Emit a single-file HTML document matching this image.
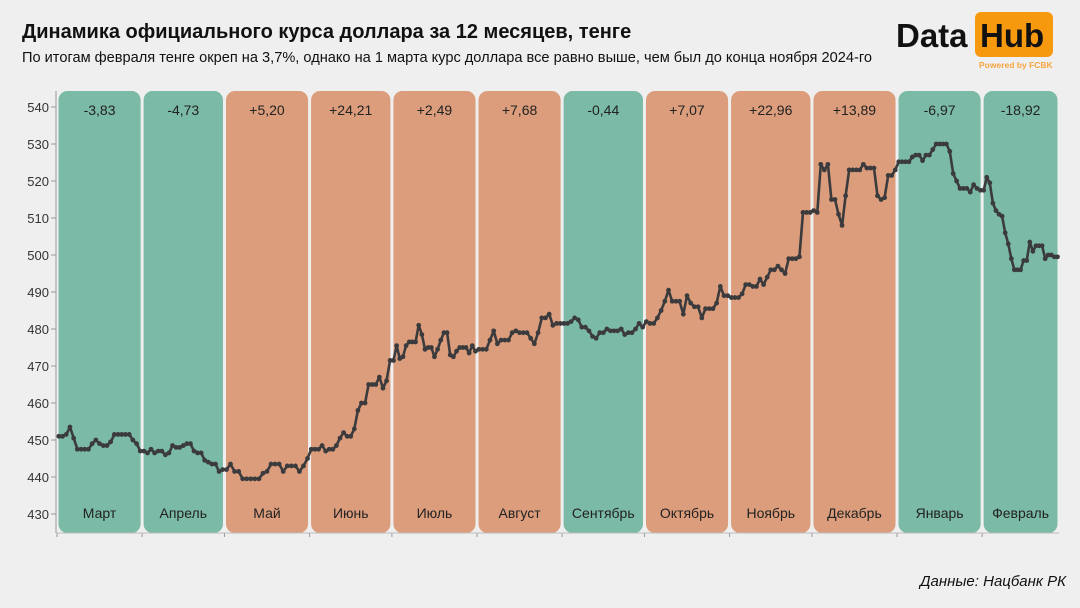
<!DOCTYPE html>
<html><head><meta charset="utf-8"><style>
html,body{margin:0;padding:0;background:#efefef;}
body{width:1080px;height:608px;overflow:hidden;position:relative;font-family:"Liberation Sans",sans-serif;}
#title{position:absolute;left:22px;top:21px;font-size:20px;font-weight:bold;color:#111;}
#sub{position:absolute;left:22px;top:50px;font-size:14.6px;color:#111;}
#src{position:absolute;right:14px;top:573px;font-size:15px;font-style:italic;color:#111;}
#logo{position:absolute;left:895px;top:12px;width:160px;height:60px;}
</style></head><body>
<div id="title">Динамика официального курса доллара за 12 месяцев, тенге</div>
<div id="sub">По итогам февраля тенге окреп на 3,7%, однако на 1 марта курс доллара все равно выше, чем был до конца ноября 2024-го</div>
<div id="logo">
 <span style="position:absolute;left:1px;top:5px;font-size:33px;font-weight:bold;color:#111;">Data</span>
 <div style="position:absolute;left:80px;top:0px;width:78px;height:45px;background:#f7990f;border-radius:6px;"></div>
 <span style="position:absolute;left:85px;top:5px;font-size:33px;font-weight:bold;color:#111;">Hub</span>
 <span style="position:absolute;left:84px;top:48px;font-size:8.5px;font-weight:bold;color:#f5a540;">Powered by FCBK</span>
</div>
<div id="src">Данные: Нацбанк РК</div>
<svg id="chart" width="1080" height="608" style="position:absolute;left:0;top:0"></svg>
<script>
const monthNames=["Март","Апрель","Май","Июнь","Июль","Август","Сентябрь","Октябрь","Ноябрь","Декабрь","Январь","Февраль"];
const monthChanges=["-3,83","-4,73","+5,20","+24,21","+2,49","+7,68","-0,44","+7,07","+22,96","+13,89","-6,97","-18,92"];
const monthDays=[31,30,31,30,31,31,30,31,30,31,31,28];
const yTicks=[430,440,450,460,470,480,490,500,510,520,530,540];
const vMar=[451,451,451.5,453.5,450.5,447.5,447.5,447.5,447.5,449,450,449,448.5,448.5,449.5,451.5,451.5,451.5,451.5,451.5,450,449,447];
const vApr=[447,446.5,447.5,446.5,447,447,446,446.5,448.5,448,448,448.5,449,449,447,446.5,446.5,444.5,444,443.5,443.5,441.5,442];
const vMay=[442,443.5,441.5,441.5,439.5,439.5,439.5,439.5,439.5,441,441.5,443.5,443.5,443.5,441.5,443,443,443,441.5,443,445];
const vJun=[447.5,447.5,447.5,448.5,447,447.5,447.5,448.5,450.5,452,451,451,453,458,460,460,465,465,465,467,464,466,471.5];
const vJul=[471.5,475.5,472,472.5,475.5,476.5,476.5,476.5,481,478.5,474.5,475,475,472.5,474.5,477,479,479,473,472.5,474,475,475,475,473.5,475.5,474];
const vAug=[474.5,474.5,474.5,477,479.5,476,477,477,477,479,479.5,479,479,479,477.5,476,479,483,483,484,481,481.5,481.5];
const vSep=[481.5,481.5,482,483,482.5,480.5,480.5,479.5,478,477.5,479,479,480,479.5,479.5,479.5,480,478.5,479,479,480,481.5,480.5];
const vOct=[482,481.5,481.5,483,485,487.5,490.5,487.5,487.5,487.5,484,489,487,486,486,483,485.5,485.5,485.5,487,491.5,489,489];
const vNov=[488.5,488.5,488.5,489.5,492,492,491.5,491.5,493.5,492,494,496,496,497,496,495,499,499,499,499.5,511.5,511.5,511.5];
const vDec=[512,511.5,524.5,523,524.5,515,515,511,508,516,523,523,523,523,524.5,523.5,523.5,523.5,516,515,515.5,521.5,521.5,523];
const vJan=[525.2,525.2,525.2,525.2,526.5,527,527,525.5,527,527,528.5,530,530,530,530,528,522,520,518,518,518,517,519,518,517.5];
const vFeb=[517.5,521,519.5,514,512,511,510.5,506,503,499,496,496,496,498.5,498.5,503.5,501,502.5,502.5,502.5,499,500,500,499.5,499.5];
const monthValues=[vMar,vApr,vMay,vJun,vJul,vAug,vSep,vOct,vNov,vDec,vJan,vFeb];

const NS="http://www.w3.org/2000/svg";
const svg=document.getElementById('chart');
const X0=57,X1=1059,Y0=533,Ytop=91;
const totalDays=monthDays.reduce((a,b)=>a+b,0);
const x=d=>X0+(X1-X0)*d/totalDays;
const y=v=>514-(v-430)*3.7;
function mk(tag,attrs){const e=document.createElementNS(NS,tag);for(const k in attrs)e.setAttribute(k,attrs[k]);svg.appendChild(e);return e;}

let d0=0;const pts=[];
monthNames.forEach((m,i)=>{
  const xa=x(d0),xb=x(d0+monthDays[i]);
  const green=monthChanges[i].startsWith('-');
  const r=mk('rect',{x:xa+1.5,y:Ytop,width:xb-xa-3,height:Y0-Ytop,rx:9,fill:green?'#7bbaa6':'#dc9d7c'});
  
  
  const t1=mk('text',{x:(xa+xb)/2,y:115,'text-anchor':'middle','font-size':14,fill:'#222','font-family':'Liberation Sans, sans-serif'});
  t1.textContent=monthChanges[i];
  
  
  const t2=mk('text',{x:(xa+xb)/2,y:518,'text-anchor':'middle','font-size':14,fill:'#222','font-family':'Liberation Sans, sans-serif'});
  t2.textContent=m;
  
  
  const vals=monthValues[i];
  vals.forEach((v,j)=>{pts.push([x(d0+(j+0.5)*monthDays[i]/vals.length),y(v)]);});
  const tk=mk('line',{x1:xa,x2:xa,y1:Y0,y2:Y0+4,stroke:'#999','stroke-width':1});
  
  
  d0+=monthDays[i];
});
const ax=mk('line',{x1:56,x2:56,y1:Ytop,y2:Y0,stroke:'#999','stroke-width':1});


const bx=mk('line',{x1:56,x2:X1,y1:Y0,y2:Y0,stroke:'#bbb','stroke-width':1});


yTicks.forEach(v=>{
  const t=mk('text',{x:49,y:y(v)+5,'text-anchor':'end','font-size':13,fill:'#333','font-family':'Liberation Sans, sans-serif'});
  t.textContent=v;
  
  
  const l=mk('line',{x1:51,x2:56,y1:y(v),y2:y(v),stroke:'#999','stroke-width':1});
  
  
});
let dstr='';
pts.forEach((p,i)=>{dstr+=(i?'L':'M')+p[0].toFixed(1)+' '+p[1].toFixed(1)+' ';});
const path=mk('path',{d:dstr,fill:'none',stroke:'#3b3b3d','stroke-width':2.6,'stroke-linejoin':'round'});


pts.forEach(p=>{
  const c=mk('circle',{cx:p[0],cy:p[1],r:2.4,fill:'#3b3b3d'});
  
  
});
</script>
</body></html>
